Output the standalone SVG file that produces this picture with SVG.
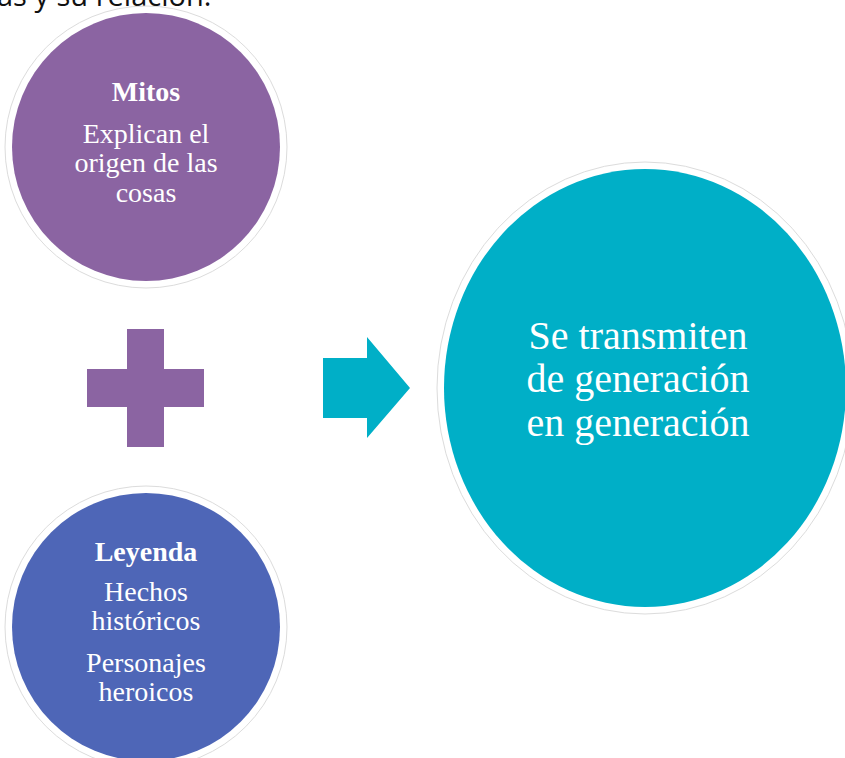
<svg xmlns="http://www.w3.org/2000/svg" width="845" height="758" viewBox="0 0 845 758">
<style>
.ring{fill:none;stroke:#dcdcdc;stroke-width:1}
.t{font-family:"Liberation Serif","Times New Roman",serif;fill:#ffffff;text-anchor:middle}
.sm{font-size:28px}
.b{font-weight:bold}
.lg{font-size:40px}
</style>
<rect width="845" height="758" fill="#ffffff"/>
<text x="-3" y="6" font-family="Open Sans, sans-serif" font-size="29" fill="#111111">as y su relación.</text>
<g id="connectors">
<path d="M127 329H164V369H204V407H164V447H127V407H87V369H127Z" fill="#8B64A2"/>
<path d="M323 358H367V337L410 388L367 438V418H323Z" fill="#00AFC7"/>
</g>
<g id="mitos">
<circle cx="146" cy="147" r="141" class="ring"/>
<circle cx="146" cy="147" r="134" fill="#8B64A2"/>
<text class="t sm b" x="146" y="101">Mitos</text>
<text class="t sm" x="146" y="143">Explican el</text>
<text class="t sm" x="146" y="172">origen de las</text>
<text class="t sm" x="146" y="202">cosas</text>
</g>
<g id="leyenda">
<circle cx="146" cy="627" r="141" class="ring"/>
<circle cx="146" cy="627" r="134" fill="#4E66B7"/>
<text class="t sm b" x="146" y="561">Leyenda</text>
<text class="t sm" x="146" y="601">Hechos</text>
<text class="t sm" x="146" y="630">históricos</text>
<text class="t sm" x="146" y="672">Personajes</text>
<text class="t sm" x="146" y="701">heroicos</text>
</g>
<g id="transmiten">
<ellipse cx="645" cy="388" rx="208" ry="226" class="ring"/>
<ellipse cx="645" cy="388" rx="201" ry="219" fill="#00AFC7"/>
<text class="t lg" x="638" y="349">Se transmiten</text>
<text class="t lg" x="638" y="392">de generación</text>
<text class="t lg" x="638" y="436">en generación</text>
</g>
</svg>
